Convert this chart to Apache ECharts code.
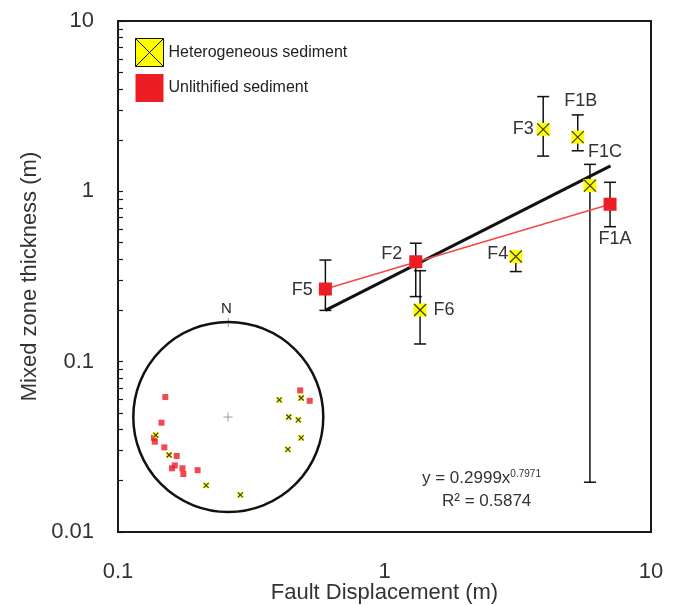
<!DOCTYPE html>
<html>
<head>
<meta charset="utf-8">
<script src="https://cdn.jsdelivr.net/npm/echarts@6/dist/echarts.min.js"></script>
<style>
  html, body { margin: 0; padding: 0; background: #fff; }
  #chart { width: 676px; height: 605px; }
</style>
</head>
<body>
<div id="chart"></div>
<script>
// heterogeneous sediment faults
var hetNames = ['F3', 'F1B', 'F1C', 'F4', 'F6'];
var hetX = [3.94, 5.31, 5.90, 3.11, 1.36];
var hetY = [2.31, 2.08, 1.08, 0.414, 0.201];
var hetLow = [1.61, 1.73, 0.0196, 0.338, 0.127];
var hetHigh = [3.6, 2.81, 1.44, 0.44, 0.342];

// unlithified sediment faults
var unlNames = ['F5', 'F2', 'F1A'];
var unlX = [0.60, 1.31, 7.02];
var unlY = [0.267, 0.386, 0.84];
var unlLow = [0.2, 0.241, 0.62];
var unlHigh = [0.395, 0.496, 1.13];

// fitted power law (all points) and unlithified trend, end points
var trendX = [0.6, 7.05];
var trendY = [0.2, 1.41];
var redTrendX = [0.60, 7.02];
var redTrendY = [0.267, 0.84];

// stereonet inset (unit circle coords)
var netRed = [[-0.66, 0.21], [-0.70, -0.06], [-0.78, -0.22], [-0.77, -0.26], [-0.67, -0.32],
  [-0.54, -0.41], [-0.56, -0.51], [-0.59, -0.54], [-0.48, -0.54], [-0.47, -0.60],
  [-0.32, -0.56], [0.76, 0.28], [0.86, 0.17]];
var netYellow = [[-0.76, -0.19], [-0.62, -0.40], [-0.23, -0.72], [0.13, -0.82], [0.54, 0.18],
  [0.77, 0.20], [0.64, 0.00], [0.74, -0.03], [0.77, -0.22], [0.63, -0.34]];
var netCenter = [[0, 0]];

var yTickValues = [0.01, 0.02, 0.03, 0.04, 0.05, 0.06, 0.07, 0.08, 0.09,
  0.1, 0.2, 0.3, 0.4, 0.5, 0.6, 0.7, 0.8, 0.9,
  1, 2, 3, 4, 5, 6, 7, 8, 9, 10];

var labelOffset = {
  F3: [-20, 0], F1B: [3, -36], F1C: [15, -34], F4: [-18, -3], F6: [24, 0],
  F5: [-23, 1], F2: [-24, -8], F1A: [5, 35]
};

var FONT = 'Liberation Sans, Arial, sans-serif';
var YELLOW = '#ffff00';
var RED = '#ee1c24';
var XPATH = 'path://M0,0L10,10M10,0L0,10';

function zip(a, b) {
    return a.map(function (v, i) { return [v, b[i]]; });
}

function pointData(names, xs, ys) {
    return names.map(function (n, i) {
        return {
            name: n,
            value: [xs[i], ys[i]],
            label: { show: true, formatter: n, position: 'inside', offset: labelOffset[n] }
        };
    });
}

function errData(xs, lo, hi) {
    return xs.map(function (x, i) { return [x, lo[i], hi[i]]; });
}

function renderErr(params, api) {
    var p1 = api.coord([api.value(0), api.value(1)]);
    var p2 = api.coord([api.value(0), api.value(2)]);
    var w = 6;
    var st = { stroke: '#111', lineWidth: 1.5 };
    return {
        type: 'group',
        children: [
            { type: 'line', shape: { x1: p1[0], y1: p1[1], x2: p2[0], y2: p2[1] }, style: st },
            { type: 'line', shape: { x1: p1[0] - w, y1: p1[1], x2: p1[0] + w, y2: p1[1] }, style: st },
            { type: 'line', shape: { x1: p2[0] - w, y1: p2[1], x2: p2[0] + w, y2: p2[1] }, style: st }
        ]
    };
}

var chart = echarts.init(document.getElementById('chart'));

var pointLabel = { color: '#333', fontSize: 18, fontFamily: FONT };

chart.setOption({
    animation: false,
    textStyle: { fontFamily: FONT },
    grid: [
        { left: 118, top: 21, right: 25, bottom: 73, show: true, borderColor: '#1a1a1a', borderWidth: 2,
          outerBoundsMode: 'none', containLabel: false },
        { left: 133, top: 322, width: 190, height: 190, outerBoundsMode: 'none' }
    ],
    polar: { center: [228.3, 417], radius: 95 },
    angleAxis: {
        type: 'value', min: 0, max: 360,
        axisLine: { lineStyle: { color: '#111', width: 2.5 } },
        axisTick: { show: false }, axisLabel: { show: false }, splitLine: { show: false }
    },
    radiusAxis: {
        type: 'value', min: 0, max: 1, show: false,
        axisLine: { show: false }, axisTick: { show: false }, axisLabel: { show: false }, splitLine: { show: false }
    },
    legend: {
        orient: 'vertical',
        left: 130, top: 33,
        itemWidth: 28, itemHeight: 28, itemGap: 7,
        textStyle: { fontSize: 16, color: '#222', fontFamily: FONT },
        data: [
            { name: 'Heterogeneous sediment', icon: 'path://M0,0L10,0L10,10L0,10Z M0,0L10,10M10,0L0,10',
              itemStyle: { color: YELLOW, borderColor: '#111', borderWidth: 1 } },
            { name: 'Unlithified sediment', icon: 'rect' }
        ]
    },
    xAxis: [
        {
            type: 'log', logBase: 10, min: 0.1, max: 10, gridIndex: 0,
            name: 'Fault Displacement (m)', nameLocation: 'middle', nameGap: 50, nameMoveOverlap: false,
            nameTextStyle: { fontSize: 22, color: '#333', fontFamily: FONT },
            axisLine: { lineStyle: { color: '#1a1a1a', width: 2 } },
            axisTick: { show: false },
            splitLine: { show: false },
            axisLabel: { fontSize: 22, color: '#333', margin: 29 }
        },
        { type: 'value', min: -1, max: 1, gridIndex: 1, show: false }
    ],
    yAxis: [
        {
            type: 'log', logBase: 10, min: 0.01, max: 10, gridIndex: 0,
            name: 'Mixed zone thickness (m)', nameLocation: 'middle', nameGap: 77, nameMoveOverlap: false,
            nameTextStyle: { fontSize: 22, color: '#333', fontFamily: FONT },
            axisLine: { lineStyle: { color: '#1a1a1a', width: 2 } },
            axisTick: { show: true, inside: true, length: 5, customValues: yTickValues,
                        lineStyle: { color: '#1a1a1a', width: 1.2 } },
            splitLine: { show: false },
            axisLabel: { fontSize: 22, color: '#333', margin: 24 }
        },
        { type: 'value', min: -1, max: 1, gridIndex: 1, show: false }
    ],
    graphic: [
        { type: 'text', left: 221, top: 301,
          style: { text: 'N', fontSize: 15, fill: '#222', fontFamily: FONT } },
        { type: 'line', shape: { x1: 228.3, y1: 318, x2: 228.3, y2: 327 },
          style: { stroke: '#999', lineWidth: 1 } },
        { type: 'text', left: 422, top: 469,
          style: {
              text: 'y = 0.2999x{sup|0.7971}', fontSize: 17, fill: '#333', fontFamily: FONT,
              rich: { sup: { fontSize: 10, verticalAlign: 'top', padding: [0, 0, 8, 0], fill: '#333' } }
          } },
        { type: 'text', left: 442, top: 493,
          style: { text: 'R\u00b2 = 0.5874', fontSize: 17, fill: '#333', fontFamily: FONT } }
    ],
    series: [
        {
            type: 'custom', name: 'errHet', xAxisIndex: 0, yAxisIndex: 0, z: 2,
            renderItem: renderErr, data: errData(hetX, hetLow, hetHigh), silent: true
        },
        {
            type: 'custom', name: 'errUnl', xAxisIndex: 0, yAxisIndex: 0, z: 2,
            renderItem: renderErr, data: errData(unlX, unlLow, unlHigh), silent: true
        },
        {
            type: 'line', name: 'trend', data: zip(trendX, trendY), symbol: 'none', z: 3,
            lineStyle: { color: '#111', width: 3 }
        },
        {
            type: 'line', name: 'trendRed', data: zip(redTrendX, redTrendY), symbol: 'none', z: 3,
            lineStyle: { color: '#f24848', width: 1.5 }
        },
        {
            type: 'scatter', name: 'Heterogeneous sediment', symbol: 'rect', symbolSize: 13, z: 4,
            itemStyle: { color: YELLOW, opacity: 1 },
            label: pointLabel,
            data: pointData(hetNames, hetX, hetY)
        },
        {
            type: 'scatter', name: 'hetX', symbol: XPATH, symbolSize: 12, z: 5, silent: true,
            itemStyle: { color: 'none', borderColor: '#111', borderWidth: 1.3 },
            data: zip(hetX, hetY)
        },
        {
            type: 'scatter', name: 'Unlithified sediment', symbol: 'rect', symbolSize: 13, z: 4,
            itemStyle: { color: RED, opacity: 1 },
            label: pointLabel,
            data: pointData(unlNames, unlX, unlY)
        },
        // stereonet inset
        {
            type: 'scatter', name: 'netRed', xAxisIndex: 1, yAxisIndex: 1, symbol: 'rect', symbolSize: 6,
            itemStyle: { color: RED }, data: netRed, z: 6
        },
        {
            type: 'scatter', name: 'netYellow', xAxisIndex: 1, yAxisIndex: 1, symbol: 'rect', symbolSize: 6,
            itemStyle: { color: YELLOW }, data: netYellow, z: 6
        },
        {
            type: 'scatter', name: 'netYellowX', xAxisIndex: 1, yAxisIndex: 1, symbol: XPATH, symbolSize: 5,
            itemStyle: { color: 'none', borderColor: '#111', borderWidth: 1.2 }, data: netYellow, z: 7
        },
        {
            type: 'scatter', name: 'netCenter', xAxisIndex: 1, yAxisIndex: 1,
            symbol: 'path://M5,0L5,10M0,5L10,5', symbolSize: 9,
            itemStyle: { color: 'none', borderColor: '#888', borderWidth: 1 }, data: netCenter, z: 6
        }
    ]
});

window.addEventListener('resize', function () {
    chart.resize();
});
</script>
</body>
</html>
